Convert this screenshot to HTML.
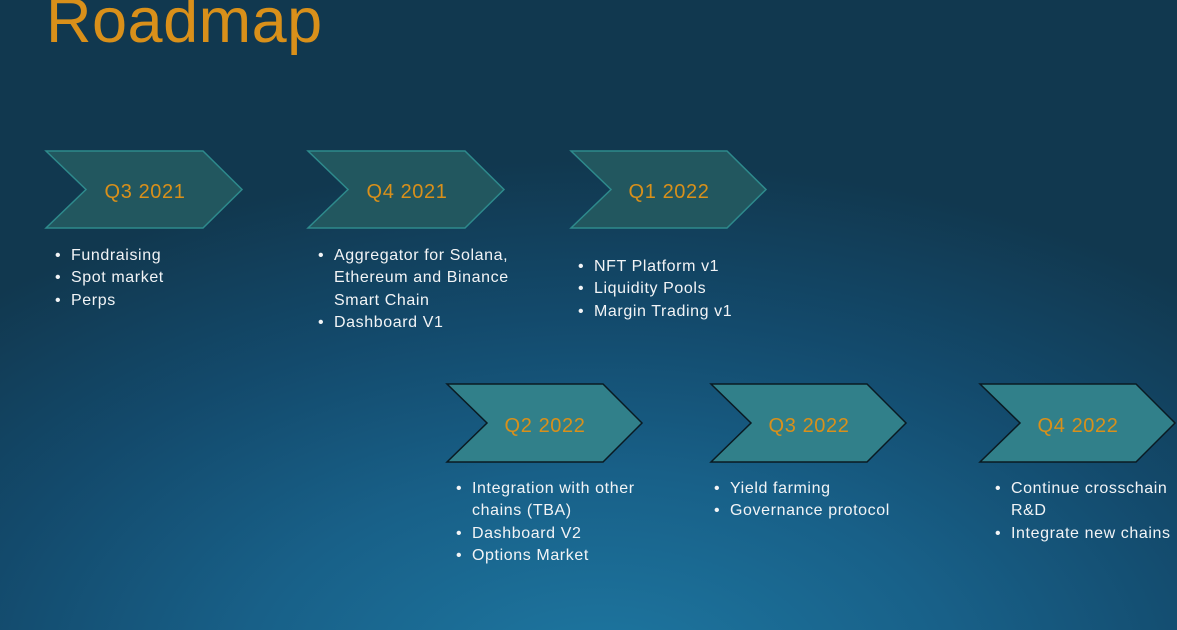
<!DOCTYPE html>
<html><head><meta charset="utf-8"><style>
html,body{margin:0;padding:0}
body{width:1177px;height:630px;overflow:hidden;position:relative;font-family:"Liberation Sans",sans-serif;
background:radial-gradient(ellipse 900px 520px at 600px 680px,#1e78a2 0%,#186088 40%,#134a6c 70%,#11384f 100%);}
h1{position:absolute;left:46px;top:-15px;margin:0;font-weight:normal;font-size:63px;color:#d9901a;letter-spacing:0.5px}
svg{position:absolute;left:0;top:0}
.l{position:absolute;color:#f2f4f6;font-size:16px;letter-spacing:0.6px;line-height:22.4px;margin:0;padding:0;list-style:none}
.l li{position:relative;padding-left:16px}
.l li:before{content:"•";position:absolute;left:0;top:0}
</style></head><body>
<h1>Roadmap</h1>
<svg width="1177" height="630">
<g fill="#22575f" stroke="#2e8a8c" stroke-width="1.5">
<polygon points="46,151 203,151 242,189.5 203,228 46,228 86,189.5"/>
<polygon points="308,151 465,151 504,189.5 465,228 308,228 348,189.5"/>
<polygon points="571,151 727,151 766,189.5 727,228 571,228 611,189.5"/>
</g>
<g fill="#31808a" stroke="#0a1a22" stroke-width="1.5">
<polygon points="447,384 603,384 642,423 603,462 447,462 487,423"/>
<polygon points="711,384 867,384 906,423 867,462 711,462 751,423"/>
<polygon points="980,384 1136,384 1175,423 1136,462 980,462 1020,423"/>
</g>
<g fill="#d9901a" font-family="Liberation Sans,sans-serif" font-size="20" letter-spacing="0.6" text-anchor="middle">
<text x="145" y="198">Q3 2021</text>
<text x="407" y="198">Q4 2021</text>
<text x="669" y="198">Q1 2022</text>
<text x="545" y="432">Q2 2022</text>
<text x="809" y="432">Q3 2022</text>
<text x="1078" y="432">Q4 2022</text>
</g>
</svg>
<ul class="l" style="left:55px;top:245px"><li>Fundraising</li><li>Spot market</li><li>Perps</li></ul>
<ul class="l" style="left:318px;top:245px;width:215px"><li>Aggregator for Solana, Ethereum and Binance Smart Chain</li><li>Dashboard V1</li></ul>
<ul class="l" style="left:578px;top:256px"><li>NFT Platform v1</li><li>Liquidity Pools</li><li>Margin Trading v1</li></ul>
<ul class="l" style="left:456px;top:478px;width:205px"><li>Integration with other chains (TBA)</li><li>Dashboard V2</li><li>Options Market</li></ul>
<ul class="l" style="left:714px;top:478px"><li>Yield farming</li><li>Governance protocol</li></ul>
<ul class="l" style="left:995px;top:478px;width:182px"><li>Continue crosschain R&amp;D</li><li>Integrate new chains</li></ul>
</body></html>
